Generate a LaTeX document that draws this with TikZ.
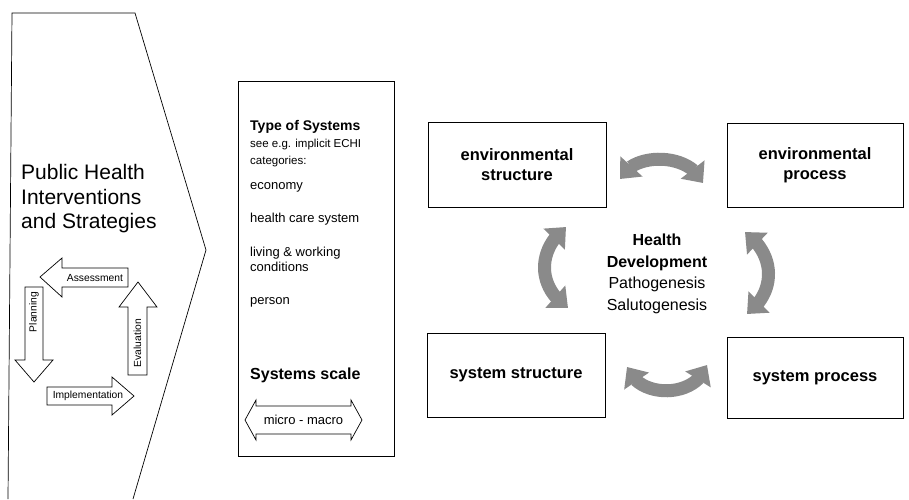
\documentclass[tikz,border=0pt]{standalone}
\usepackage{fontspec}
\setmainfont{Liberation Sans}
\usetikzlibrary{arrows.meta,bending}
\definecolor{arrowgray}{RGB}{138,138,138}
\begin{document}
\begin{tikzpicture}[x=1pt,y=-1pt,
  box/.style={draw, line width=0.8pt, inner sep=0pt},
  boxlabel/.style={font=\fontsize{16.5}{20}\selectfont\bfseries, align=center},
  grayarrow/.style={line width=13pt, draw=arrowgray,
     {Triangle[width=29pt,length=17pt]}-{Triangle[width=29pt,length=17pt]}},
  blockarrow/.style={draw, line width=0.7pt, fill=white, line join=miter},
  cyc/.style={font=\fontsize{10.3}{12}\selectfont, inner sep=0pt},
  item/.style={anchor=base west, inner sep=0pt, font=\fontsize{13}{15}\selectfont},
  subitem/.style={anchor=base west, inner sep=0pt, font=\fontsize{11.5}{14}\selectfont},
]
\useasboundingbox (0,0) rectangle (909,499);

% left chevron shape
\draw[line width=0.7pt, line join=miter] (8,499) -- (12,13) -- (135,13) -- (206,250) -- (133,499);
\node[anchor=west, align=left, inner sep=0pt, font=\fontsize{21}{24.5}\selectfont] (phis) at (21,199)
  {Public Health\\Interventions\\and Strategies};

% cycle arrows
\draw[blockarrow] (40,277) -- (62,258) -- (62,268) -- (128,268) -- (128,287) -- (62,287) -- (62,297) -- cycle;
\node[cyc] (assess) at (95,278) {Assessment};
\draw[blockarrow] (25,287) -- (43,287) -- (43,360) -- (53,360) -- (34,382) -- (15,360) -- (25,360) -- cycle;
\node[cyc, rotate=90] (plan) at (34,312) {Planning};
\draw[blockarrow] (138,282) -- (157,307) -- (147,307) -- (147,375) -- (128,375) -- (128,307) -- (119,307) -- cycle;
\node[cyc, rotate=90] (eval) at (137.5,343) {Evaluation};
\draw[blockarrow] (47,387) -- (112,387) -- (112,377) -- (134,396) -- (112,415) -- (112,405) -- (47,405) -- cycle;
\node[cyc] (impl) at (88,396) {Implementation};

% middle box
\node[box, minimum width=156pt, minimum height=375pt] (types) at (316,268.5) {};
\node[item, font=\fontsize{14}{16}\selectfont\bfseries] (t1) at (250,130) {Type of Systems};
\node[subitem] (t2) at (250,147) {see e.g. implicit ECHI};
\node[subitem] (t3) at (250,164) {categories:};
\node[item] (t4) at (250,189) {economy};
\node[item] (t5) at (250,222) {health care system};
\node[item] (t6) at (250,256) {living \& working};
\node[item] (t7) at (250,271) {conditions};
\node[item] (t8) at (250,304) {person};
\node[item, font=\fontsize{16}{18}\selectfont\bfseries] (t9) at (250,379) {Systems scale};
\draw[blockarrow] (245,420) -- (256,400) -- (256,406) -- (351,406) -- (351,400) -- (362,420)
   -- (351,440) -- (351,434) -- (256,434) -- (256,440) -- cycle;
\node[inner sep=0pt, font=\fontsize{13}{15}\selectfont] (mm) at (303.5,420) {micro - macro};

% four boxes
\node[box, minimum width=178pt, minimum height=85pt, boxlabel] (es) at (517,164.5) {environmental\\structure};
\node[box, minimum width=176pt, minimum height=84pt, boxlabel] (ep) at (815,165) {environmental\\process};
\node[box, minimum width=178pt, minimum height=84pt, boxlabel] (ss) at (516,375) {system structure};
\node[box, minimum width=176pt, minimum height=81pt, boxlabel] (sp) at (815,377.5) {system process};

% centre text
\node[align=center, inner sep=0pt, font=\fontsize{16}{21.7}\selectfont] (hd) at (657,274)
  {\textbf{Health}\\\textbf{Development}\\Pathogenesis\\Salutogenesis};

% grey double arrows
\coordinate (a1) at (620,179); \coordinate (a2) at (703,183);
\draw[grayarrow] (a1) .. controls (632,152) and (690,152) .. (a2);
\coordinate (b1) at (627,367); \coordinate (b2) at (707,365);
\draw[grayarrow] (b1) .. controls (638,399) and (696,399) .. (b2);
\coordinate (c1) at (566,227); \coordinate (c2) at (568,308);
\draw[grayarrow] (c1) .. controls (537,250) and (537,287) .. (c2);
\coordinate (d1) at (745,232); \coordinate (d2) at (747,314);
\draw[grayarrow] (d1) .. controls (776,255) and (776,292) .. (d2);
\end{tikzpicture}
\end{document}
